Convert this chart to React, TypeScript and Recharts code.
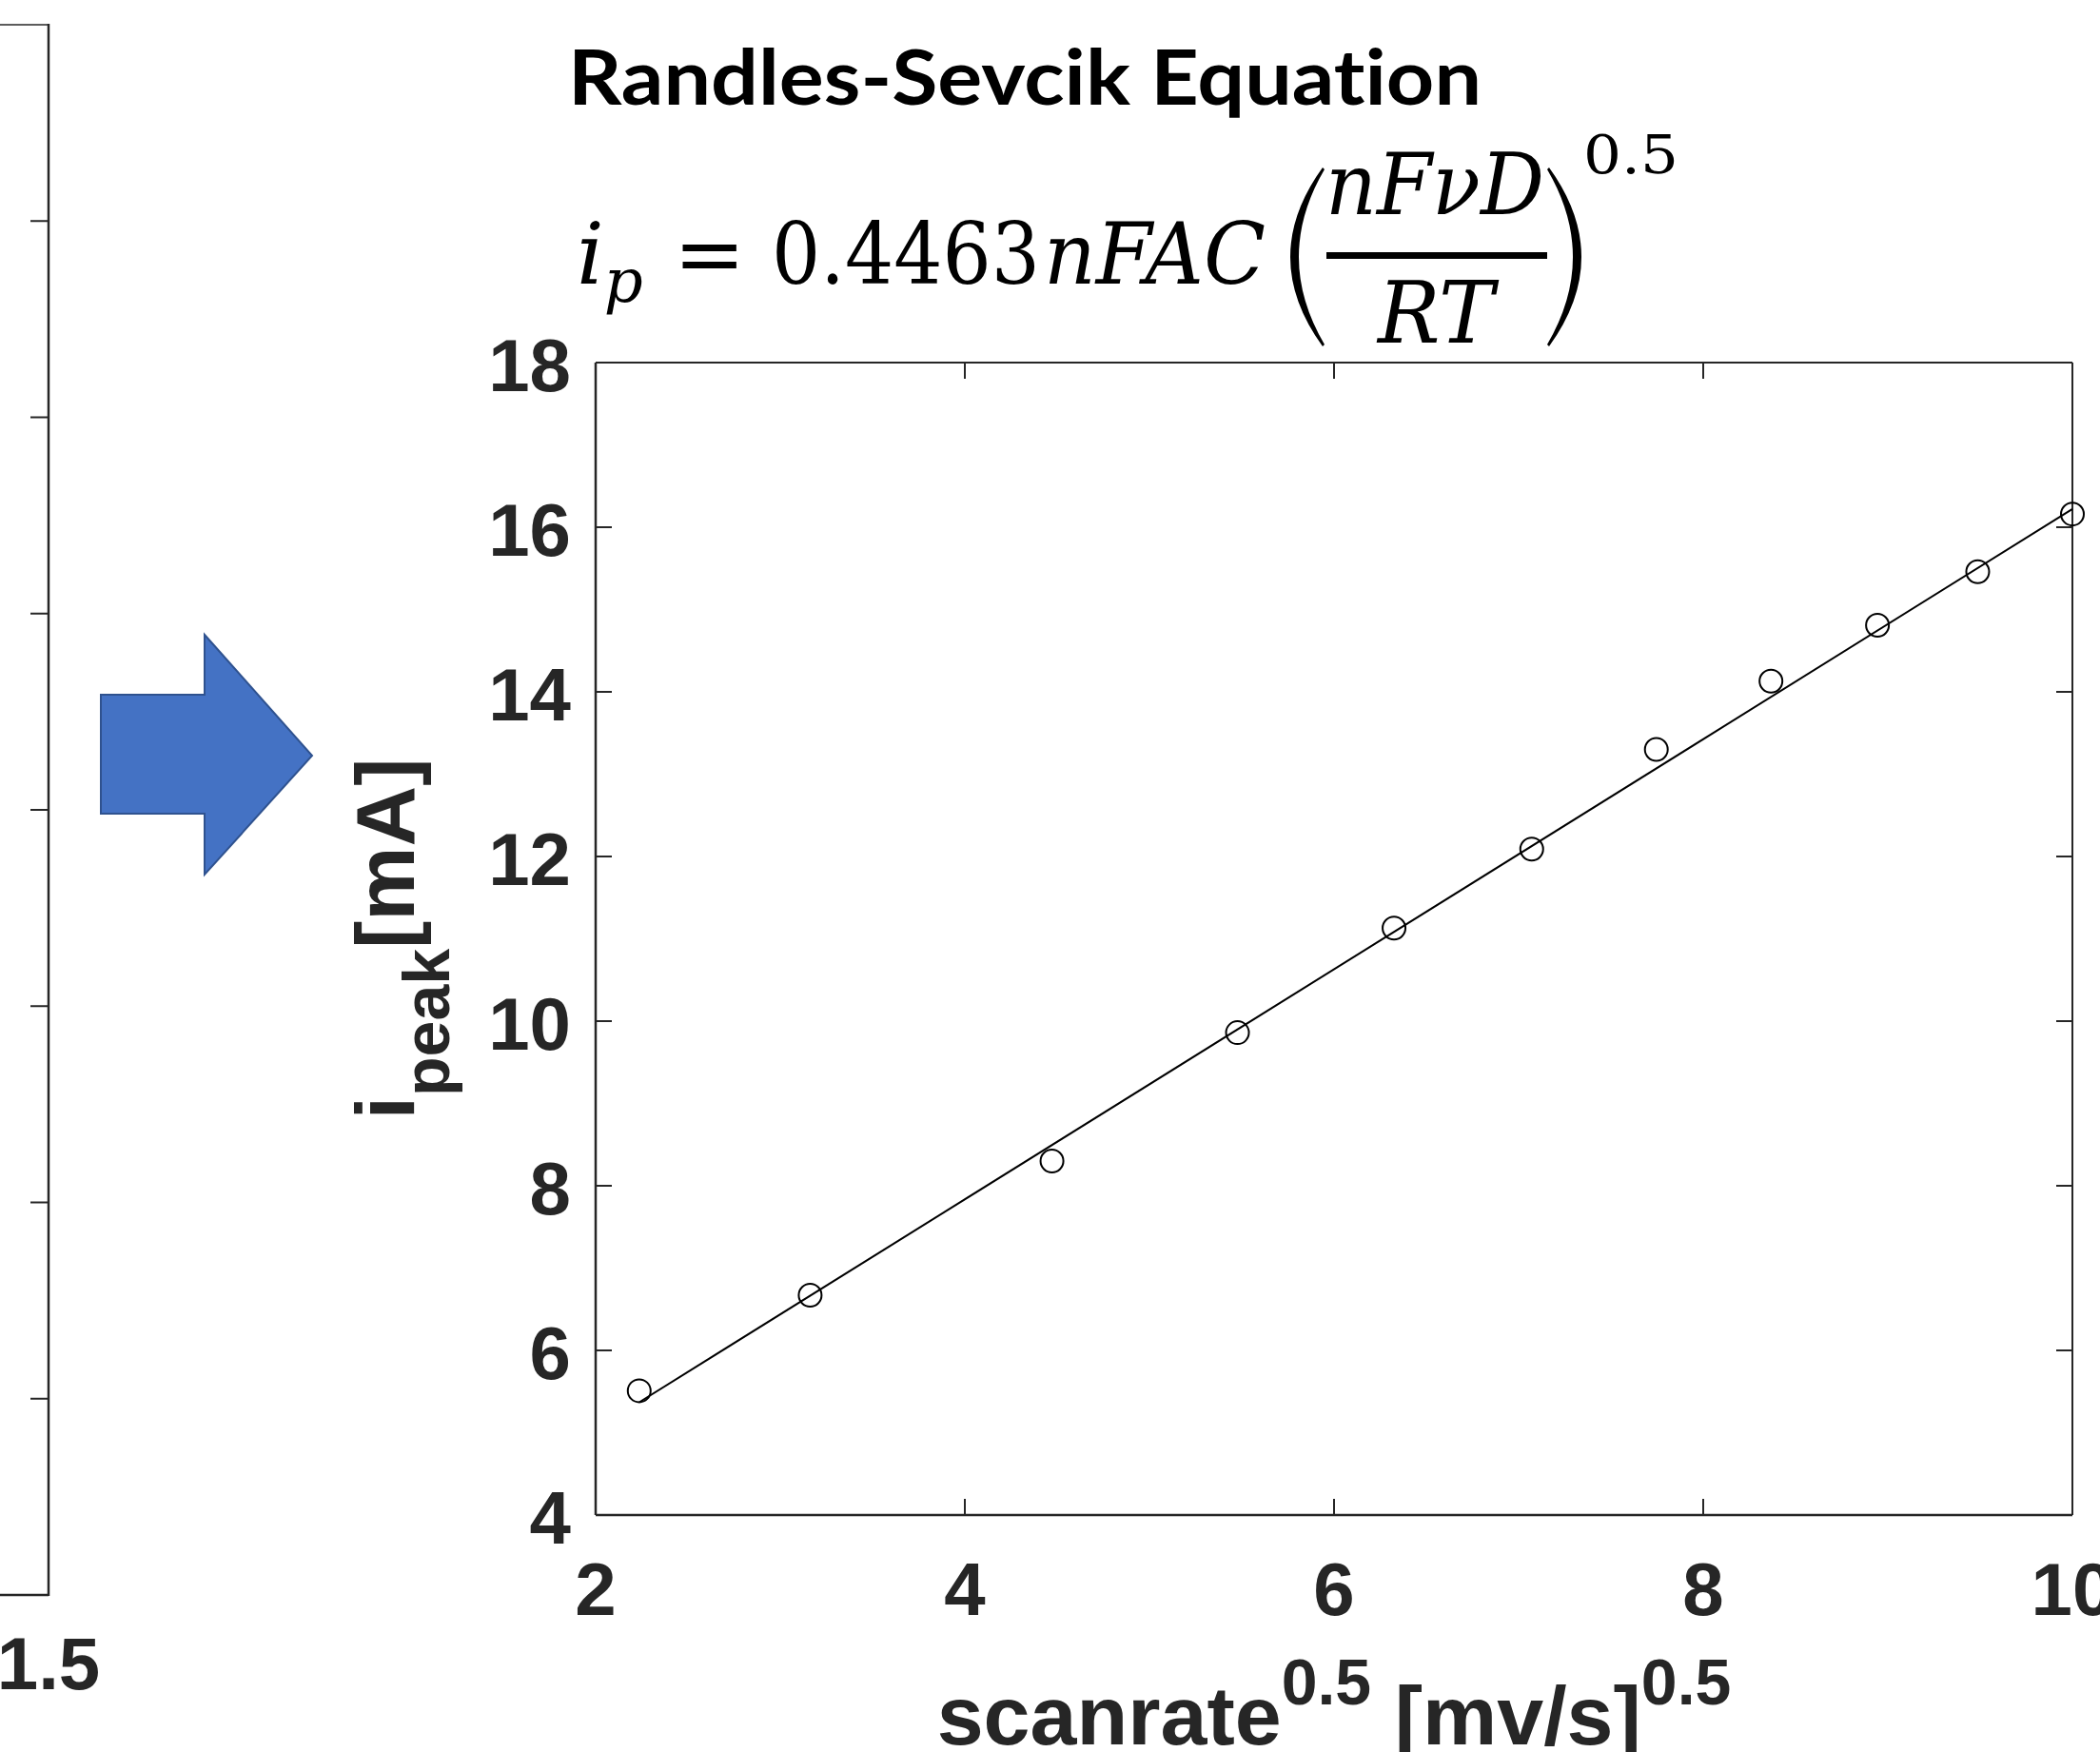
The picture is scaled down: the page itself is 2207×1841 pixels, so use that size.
import React from 'react';
import { ComposedChart, Scatter, Line, XAxis, YAxis, ReferenceLine } from 'recharts';

// ---- data ----
const scanRateSqrt = [2.236, 3.162, 4.472, 5.477, 6.325, 7.071, 7.746, 8.367, 8.944, 9.487, 10.0];
const peakCurrent = [5.51, 6.67, 8.3, 9.86, 11.13, 12.09, 13.3, 14.13, 14.81, 15.46, 16.16];
const fitScanRateSqrt = [2.236, 10.0];
const fitPeakCurrent = [5.37, 16.22];
const xTicks = [2, 4, 6, 8, 10];
const yTicks = [4, 6, 8, 10, 12, 14, 16, 18];
const leftPanelTickSteps = [1, 2, 3, 4, 5, 6, 7];
const leftPanelTickLabel = '1.5';

const titleText = 'Randles-Sevcik Equation';
const xTitleMain = 'scanrate';
const xTitleExp = '0.5';
const xTitleUnit = ' [mv/s]';
const yTitleMain = 'i';
const yTitleSub = 'peak';
const yTitleUnit = '[mA]';

const measuredPoints = scanRateSqrt.map((x, i) => ({ x, y: peakCurrent[i] }));
const fitPoints = fitScanRateSqrt.map((x, i) => ({ x, y: fitPeakCurrent[i] }));

// ---- layout ----
const CHART_W = 2207;
const CHART_H = 1841;
const MARGIN = { top: 381, right: 29, left: 0, bottom: 0 };
const Y_AXIS_W = 626;
const X_AXIS_H = 249;
const PLOT_W = CHART_W - MARGIN.left - MARGIN.right - Y_AXIS_W;
const PLOT_H = CHART_H - MARGIN.top - MARGIN.bottom - X_AXIS_H;
const AXIS_COLOR = '#262626';
const TICK_LEN = 17;
const SANS = '"Liberation Sans", Arial, Helvetica, sans-serif';
const SERIF = '"DejaVu Serif", "Liberation Serif", serif';

function XTick(props: any) {
  const { x, y, payload } = props;
  return (
    <g>
      <line x1={x} y1={y} x2={x} y2={y - TICK_LEN} stroke={AXIS_COLOR} strokeWidth={2} />
      <line x1={x} y1={y - PLOT_H} x2={x} y2={y - PLOT_H + TICK_LEN} stroke={AXIS_COLOR} strokeWidth={2} />
      <text x={x} y={y + 105} textAnchor="middle" fontFamily={SANS} fontWeight="bold" fontSize={78} fill={AXIS_COLOR}>
        {payload.value}
      </text>
    </g>
  );
}

function YTick(props: any) {
  const { x, y, payload } = props;
  return (
    <g>
      <line x1={x} y1={y} x2={x + TICK_LEN} y2={y} stroke={AXIS_COLOR} strokeWidth={2} />
      <line x1={x + PLOT_W} y1={y} x2={x + PLOT_W - TICK_LEN} y2={y} stroke={AXIS_COLOR} strokeWidth={2} />
      <text x={x - 26} y={y + 30} textAnchor="end" fontFamily={SANS} fontWeight="bold" fontSize={78} fill={AXIS_COLOR}>
        {payload.value}
      </text>
    </g>
  );
}

function Ring(props: any) {
  const { cx, cy } = props;
  return <circle cx={cx} cy={cy} r={12} fill="none" stroke="#000" strokeWidth={2} />;
}

export default function App() {
  const plotCx = MARGIN.left + Y_AXIS_W + PLOT_W / 2;
  const plotCy = MARGIN.top + PLOT_H / 2;
  const plotBottom = MARGIN.top + PLOT_H;

  return (
    <div style={{ position: 'absolute', left: 0, top: 0, width: CHART_W, height: CHART_H, background: '#fff' }}>
      <ComposedChart width={CHART_W} height={CHART_H} margin={MARGIN}>
        <XAxis
          dataKey="x"
          type="number"
          domain={[2, 10]}
          ticks={xTicks}
          interval={0}
          height={X_AXIS_H}
          tickLine={false}
          tickSize={0}
          tickMargin={0}
          tick={<XTick />}
          axisLine={{ stroke: AXIS_COLOR, strokeWidth: 2.5 }}
        />
        <YAxis
          dataKey="y"
          type="number"
          domain={[4, 18]}
          ticks={yTicks}
          interval={0}
          width={Y_AXIS_W}
          tickLine={false}
          tickSize={0}
          tickMargin={0}
          tick={<YTick />}
          axisLine={{ stroke: AXIS_COLOR, strokeWidth: 2.5 }}
        />
        <ReferenceLine y={18} stroke={AXIS_COLOR} strokeWidth={2} />
        <ReferenceLine x={10} stroke={AXIS_COLOR} strokeWidth={2} />
        <Line
          data={fitPoints}
          dataKey="y"
          type="linear"
          stroke="#000"
          strokeWidth={2}
          dot={false}
          activeDot={false}
          isAnimationActive={false}
        />
        <Scatter data={measuredPoints} dataKey="y" shape={<Ring />} isAnimationActive={false} />

        {/* axis titles */}
        <text
          x={plotCx}
          y={plotBottom + 241}
          textAnchor="middle"
          fontFamily={SANS}
          fontWeight="bold"
          fontSize={88}
          fill={AXIS_COLOR}
          style={{ whiteSpace: 'pre' }}
        >
          <tspan>{xTitleMain}</tspan>
          <tspan fontSize={68} dy={-42}>{xTitleExp}</tspan>
          <tspan fontSize={88} dy={42}>{xTitleUnit}</tspan>
          <tspan fontSize={68} dy={-42}>{xTitleExp}</tspan>
        </text>
        <text
          transform={`translate(435, ${plotCy}) rotate(-90)`}
          textAnchor="middle"
          fontFamily={SANS}
          fontWeight="bold"
          fontSize={88}
          fill={AXIS_COLOR}
        >
          <tspan>{yTitleMain}</tspan>
          <tspan fontSize={68} dy={37}>{yTitleSub}</tspan>
          <tspan fontSize={88} dy={-37}>{yTitleUnit}</tspan>
        </text>

        {/* title */}
        <text
          x={597}
          y={110}
          fontFamily="Lato, 'Open Sans', sans-serif"
          fontWeight={700}
          fontSize={80}
          fill="#000"
          textLength={960}
          lengthAdjust="spacingAndGlyphs"
          style={{ fontVariantLigatures: 'none', fontFeatureSettings: '"liga" 0, "clig" 0' }}
        >
          {titleText}
        </text>

        {/* equation */}
        <g fill="#000" fontFamily={SERIF}>
          <text x={606} y={298} fontSize={90} fontStyle="italic">
            <tspan>i</tspan>
            <tspan fontSize={64} dy={19}>p</tspan>
          </text>
          <text x={708} y={298} fontSize={90}>=</text>
          <text x={811} y={298} fontSize={90}>
            <tspan textLength={282} lengthAdjust="spacingAndGlyphs">0.4463</tspan>
            <tspan x={1097} fontStyle="italic" textLength={233} lengthAdjust="spacingAndGlyphs">nFAC</tspan>
          </text>
          <path d="M1390,176 Q1322,270 1390,364 L1392,362 Q1338,270 1392,178 Z" />
          <text x={1393} y={225} fontSize={90} fontStyle="italic" textLength={230} lengthAdjust="spacingAndGlyphs">nFνD</text>
          <rect x={1394} y={265} width={232} height={7} />
          <text x={1448} y={360} fontSize={90} fontStyle="italic" textLength={122} lengthAdjust="spacingAndGlyphs">RT</text>
          <path d="M1628,176 Q1696,270 1628,364 L1626,362 Q1680,270 1626,178 Z" />
          <text x={1664} y={182} fontSize={56} textLength={100} lengthAdjust="spacingAndGlyphs">0.5</text>
        </g>

        {/* blue arrow */}
        <polygon
          points="106,730 215,730 215,667 328,794 215,919 215,855 106,855"
          fill="#4472C4"
          stroke="#2F528F"
          strokeWidth={2}
        />

        {/* remnant of the neighbouring panel on the left */}
        <g stroke={AXIS_COLOR}>
          <line x1={0} y1={26} x2={51} y2={26} strokeWidth={1.5} />
          <line x1={0} y1={1676} x2={51} y2={1676} strokeWidth={2.5} />
          <line x1={51} y1={25} x2={51} y2={1677} strokeWidth={2.5} />
          {leftPanelTickSteps.map((k) => (
            <line key={k} x1={32} x2={51} y1={26 + (k * (1676 - 26)) / 8} y2={26 + (k * (1676 - 26)) / 8} strokeWidth={2} />
          ))}
        </g>
        <text x={51} y={1775} textAnchor="middle" fontFamily={SANS} fontWeight="bold" fontSize={78} fill={AXIS_COLOR}>
          {leftPanelTickLabel}
        </text>
      </ComposedChart>
    </div>
  );
}
